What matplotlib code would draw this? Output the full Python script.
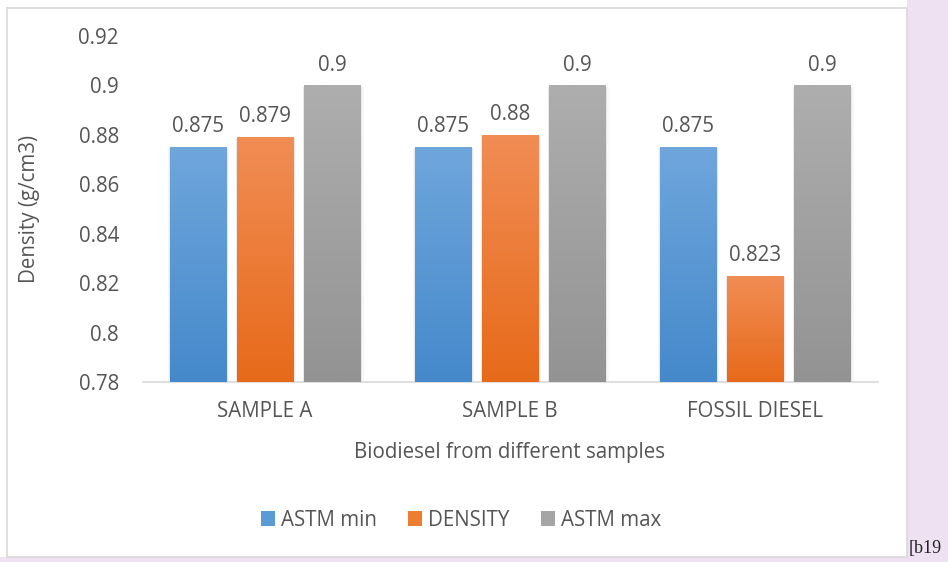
import matplotlib
matplotlib.use("Agg")
import matplotlib.pyplot as plt
import numpy as np
from matplotlib.colors import LinearSegmentedColormap
from matplotlib.patches import Rectangle

categories = ["SAMPLE A", "SAMPLE B", "FOSSIL DIESEL"]
series_names = ["ASTM min", "DENSITY", "ASTM max"]
astm_min = [0.875, 0.875, 0.875]
density = [0.879, 0.88, 0.823]
astm_max = [0.9, 0.9, 0.9]
value_labels = [["0.875", "0.875", "0.875"], ["0.879", "0.88", "0.823"], ["0.9", "0.9", "0.9"]]
yticks = [0.78, 0.8, 0.82, 0.84, 0.86, 0.88, 0.9, 0.92]
ytick_labels = ["0.78", "0.8", "0.82", "0.84", "0.86", "0.88", "0.9", "0.92"]

grads = [("#6FA6DC", "#4589CB"), ("#F18D55", "#E76A1A"), ("#AEAEAE", "#939393")]
solid = ["#5B9BD5", "#ED7D31", "#A5A5A5"]

plt.rcParams['font.family'] = ['Open Sans', 'DejaVu Sans']
txt = "#555555"
FS = 14.8

fig = plt.figure(figsize=(9.48, 5.62), dpi=100)
W, H = 948, 562
bg = fig.add_axes([0, 0, 1, 1])
bg.set_xlim(0, W); bg.set_ylim(H, 0); bg.axis('off')
bg.add_patch(Rectangle((0, 0), W, H, facecolor="#EEE2F2", edgecolor='none'))
bg.add_patch(Rectangle((0, 0), 907, 557, facecolor="white", edgecolor='none'))
bg.plot([7, 907, 907], [8, 8, 557], color="#D9D9D9", lw=1.2)
bg.plot([7, 7], [8, 557], color="#D9D9D9", lw=1.2)
bg.plot([7, 907], [557, 557], color="#D9D9D9", lw=1.2)
bg.text(909, 549, "[b19", family="Liberation Serif", fontsize=13, color="#222222", va='center', ha='left')

ax = fig.add_axes([142.5 / W, 1 - 382 / H, 735 / W, 346 / H])
ax.set_facecolor('none')
ax.set_xlim(-0.5, 2.5)
ax.set_ylim(0.78, 0.92)

x = np.arange(len(categories))
width = 0.229
offsets = [-0.274, 0.0, 0.274]
all_series = [astm_min, density, astm_max]
for si, (vals, off) in enumerate(zip(all_series, offsets)):
    cmap = LinearSegmentedColormap.from_list("g%d" % si, [grads[si][1], grads[si][0]])
    bars = ax.bar(x + off, [v - 0.78 for v in vals], width, bottom=0.78, color=solid[si],
                  edgecolor='none', zorder=2, label=series_names[si])
    for b, v, lab in zip(bars, vals, value_labels[si]):
        x0 = b.get_x(); w = b.get_width()
        for k, a in [(0.014, 0.08), (0.008, 0.14)]:
            ax.add_patch(Rectangle((x0 - k * 0.4, 0.78), w + k * 1.4, v - 0.78 - 0.0005,
                                   facecolor="#9a9a9a", alpha=a, edgecolor='none', zorder=1))
        grad = np.linspace(0, 1, 256).reshape(-1, 1)
        im = ax.imshow(grad, cmap=cmap, origin='lower', aspect='auto',
                       extent=(x0, x0 + w, 0.78, v), zorder=3)
        im.set_clip_path(b)
        ax.text(x0 + w / 2, v + 0.0040, lab, ha='center', va='bottom', fontsize=FS, color=txt)

ax.set_xlim(-0.5, 2.5)
ax.set_ylim(0.78, 0.92)
ax.set_yticks(yticks)
ax.set_yticklabels(ytick_labels, fontsize=FS, color=txt)
ax.set_xticks(x)
ax.set_xticklabels(categories, fontsize=FS, color=txt)
ax.tick_params(axis='y', length=0, pad=17)
ax.tick_params(axis='x', length=0, pad=14)
for s in ['top', 'right', 'left']:
    ax.spines[s].set_visible(False)
ax.spines['bottom'].set_color("#D9D9D9")
ax.spines['bottom'].set_linewidth(1.2)
ax.set_ylabel("Density (g/cm3)", fontsize=FS, color=txt)
ax.yaxis.set_label_coords(-103 / 735, 0.5)
ax.set_xlabel("Biodiesel from different samples", fontsize=FS, color=txt, labelpad=14)

handles = [Rectangle((0, 0), 1, 1, facecolor=c, edgecolor='none') for c in solid]
fig.legend(handles, series_names, loc='center', bbox_to_anchor=(461 / W, 1 - 520 / H),
           ncol=3, frameon=False, fontsize=FS, labelcolor=txt,
           handlelength=0.7, handleheight=0.7, handletextpad=0.3, columnspacing=1.5)

fig.savefig("out.png", dpi=100)
